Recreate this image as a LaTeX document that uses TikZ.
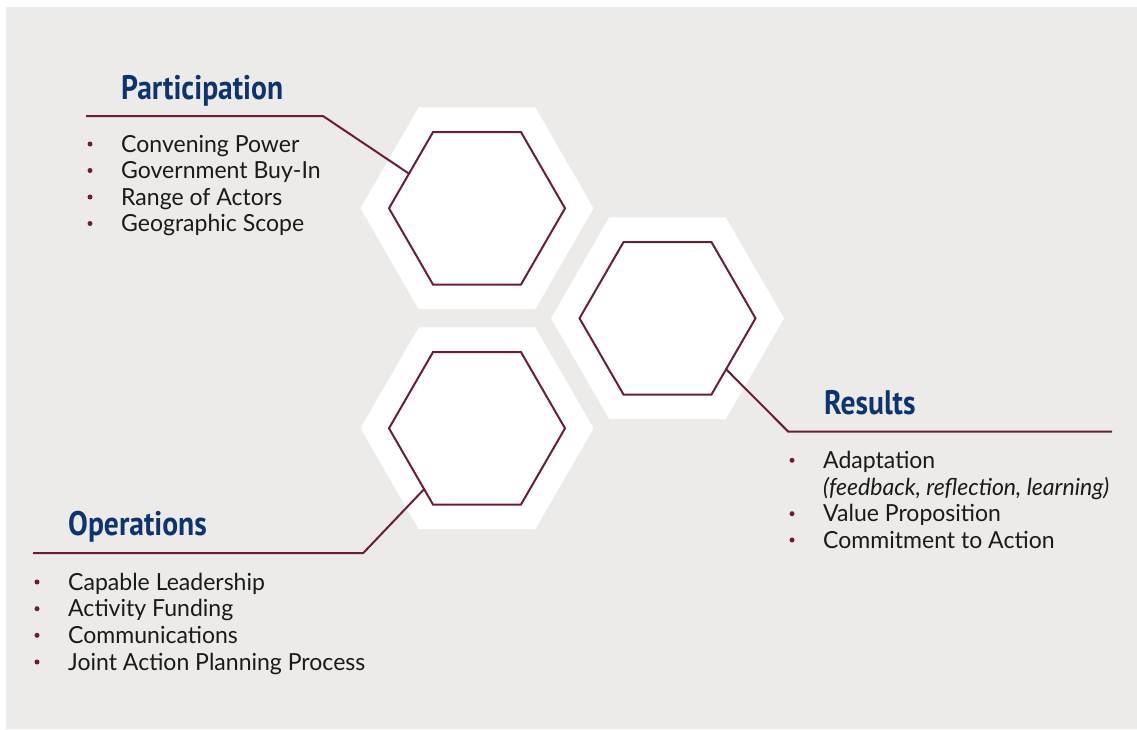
\documentclass[tikz,border=0pt]{standalone}
\usepackage{fontspec}
\setmainfont[FakeStretch=0.98]{Lato}
\newfontfamily\titlefont[FakeStretch=0.87]{PT Sans}
\usetikzlibrary{shapes.geometric}
\definecolor{bg}{HTML}{EDEBE9}
\definecolor{maroon}{HTML}{6A1E33}
\definecolor{navy}{HTML}{0E3470}
\definecolor{ink}{HTML}{1A1A1A}
\begin{document}
\begin{tikzpicture}[x=1pt,y=-1pt,
  hexout/.style={regular polygon,regular polygon sides=6,minimum size=233pt,inner sep=0pt,outer sep=0pt,fill=white,draw=none},
  hexin/.style={regular polygon,regular polygon sides=6,minimum size=176pt,inner sep=0pt,outer sep=0pt,fill=white,draw=maroon,line width=2pt},
  ttl/.style={anchor=base west,inner sep=0pt,text=navy,font=\titlefont\bfseries\fontsize{34}{34}\selectfont},
  item/.style={anchor=base west,inner sep=0pt,text=ink,font=\fontsize{23.5}{26}\selectfont},
  conn/.style={draw=maroon,line width=2pt},
  bul/.style={fill=maroon}
]
\useasboundingbox (0,0) rectangle (1137,729);
\fill[bg] (6,7) rectangle (1137,729);

% hexagons
\node[hexout] (hexAout) at (477,208.3) {};
\node[hexout] (hexBout) at (477,428.3) {};
\node[hexout] (hexCout) at (667.5,318.3) {};
\node[hexin] (hexAin) at (477,208.3) {};
\node[hexin] (hexBin) at (477,428.3) {};
\node[hexin] (hexCin) at (667.5,318.3) {};

% connectors
\coordinate (pE) at (86,116);
\coordinate (pB) at (323,116);
\draw[conn] (pE) -- (pB) -- (hexAin.153);
\coordinate (rB) at (788.3,431.7);
\coordinate (rE) at (1112,431.7);
\draw[conn] (hexCin.-41.5) -- (rB) -- (rE);
\coordinate (oB) at (363.3,553);
\coordinate (oE) at (33,553);
\draw[conn] (hexBin.229) -- (oB) -- (oE);

% titles
\node[ttl] (tP) at (121,99.3) {Participation};
\node[ttl] (tO) at (68,535) {Operations};
\node[ttl] (tR) at (824,414.3) {Results};

% Participation items
\node[item] (p1) at (121,152) {Convening Power};
\node[item] (p2) at (121,178.5) {Government Buy-In};
\node[item] (p3) at (121,205) {Range of Actors};
\node[item] (p4) at (121,231.5) {Geographic Scope};
\foreach \y in {152,178.5,205,231.5} \fill[bul] (90,\y-8) circle (2.5);

% Operations items
\node[item] (o1) at (68,590) {Capable Leadership};
\node[item] (o2) at (68,616.7) {Activity Funding};
\node[item] (o3) at (68,643.3) {Communications};
\node[item] (o4) at (68,670) {Joint Action Planning Process};
\foreach \y in {590,616.7,643.3,670} \fill[bul] (37,\y-8) circle (2.5);

% Results items
\node[item] (r1) at (823,468.3) {Adaptation};
\node[item] (r1b) at (823,495) {\itshape (feedback, reflection, learning)};
\node[item] (r2) at (823,521.7) {Value Proposition};
\node[item] (r3) at (823,548) {Commitment to Action};
\foreach \y in {468.3,521.7,548} \fill[bul] (792,\y-8) circle (2.5);
\end{tikzpicture}
\end{document}
